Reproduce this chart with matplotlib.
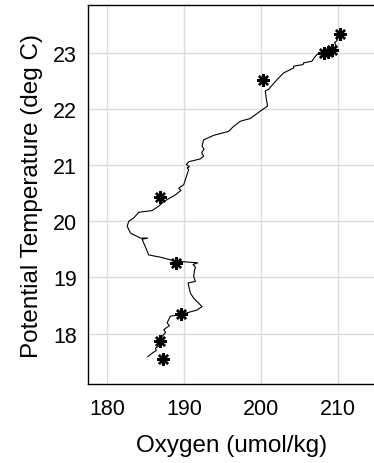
import matplotlib
matplotlib.use("Agg")
import matplotlib.pyplot as plt

plt.rcParams['font.family'] = ['Liberation Sans', 'DejaVu Sans']

# continuous profile (oxygen, potential temperature)
oxygen = [210.34, 209.9, 209.95, 209.6, 209.9, 208.61, 207.9, 207.31, 206.9, 206.66,
          205.57, 205.5, 204.27, 204.3, 203.84, 202.96, 202.11, 201.01, 200.59,
          200.7, 200.88, 199.93, 198.63, 197.33, 196.46, 195.81, 193.86, 192.56,
          192.35, 192.6, 192.3, 192.56, 192.13, 190.61, 190.31, 190.7, 190.4,
          190.61, 190.18, 189.96, 189.31, 189.6, 188.88, 188.23, 187.36, 186.71,
          185.85, 184.11, 183.46, 182.81, 182.6, 183.03, 184.33, 185.28, 184.55,
          185.41, 186.93, 188.88, 191.78, 191.18, 191.5, 191.39, 191.26, 191.48,
          190.53, 190.83, 191.26, 192.35, 191.7, 190.4, 189.53, 188.23, 187.8,
          188.1, 187.36, 187.6, 187.15, 186.71, 186.9, 186.28, 186.4, 185.85,
          185.28]
temperature = [23.34, 23.30, 23.22, 23.18, 23.10, 23.00, 22.99, 22.97, 22.9, 22.85,
               22.82, 22.79, 22.76, 22.73, 22.70, 22.64, 22.52, 22.35, 22.32,
               22.2, 22.05, 21.96, 21.83, 21.78, 21.69, 21.60, 21.53, 21.45,
               21.34, 21.28, 21.22, 21.16, 21.11, 21.06, 21.01, 20.97, 20.95,
               20.92, 20.74, 20.65, 20.59, 20.55, 20.47, 20.42, 20.35, 20.27,
               20.19, 20.16, 20.06, 20.00, 19.91, 19.79, 19.70, 19.70, 19.68,
               19.40, 19.36, 19.29, 19.26, 19.23, 19.18, 19.14, 19.02, 18.93,
               18.90, 18.72, 18.63, 18.48, 18.42, 18.37, 18.34, 18.31, 18.19,
               18.14, 18.07, 18.02, 17.95, 17.83, 17.79, 17.74, 17.7, 17.65,
               17.59]

# bottle samples
bottle_oxygen = [210.3, 209.3, 208.8, 208.2, 200.3, 186.9, 189.0, 189.6, 186.9, 187.3]
bottle_temp = [23.33, 23.05, 23.02, 23.00, 22.51, 20.44, 19.26, 18.34, 17.87, 17.55]

xticks = [180, 190, 200, 210]
yticks = [18, 19, 20, 21, 22, 23]

fig = plt.figure(figsize=(3.74, 4.64), dpi=100)
ax = fig.add_axes([0.2353, 0.170, 0.77, 0.817])

ax.plot(oxygen, temperature, color='black', linewidth=0.8)
ax.plot(bottle_oxygen, bottle_temp, linestyle='none', marker=(8, 2, 0),
        markersize=9, markeredgewidth=1.7, color='black')

ax.set_xlim(177.5, 215)
ax.set_ylim(17.1, 23.85)
ax.set_xticks(xticks)
ax.set_yticks(yticks)
ax.grid(True, color='#dcdcdc', linewidth=1.0)
ax.set_axisbelow(True)
ax.tick_params(length=0, labelsize=15.5)
ax.tick_params(axis='x', pad=10)
ax.tick_params(axis='y', pad=8)
for s in ax.spines.values():
    s.set_linewidth(1.0)

ax.set_xlabel('Oxygen (umol/kg)', fontsize=17.5, labelpad=11)
ax.set_ylabel('Potential Temperature (deg C)', fontsize=17.5, labelpad=7)

fig.savefig('out.png', dpi=100)
